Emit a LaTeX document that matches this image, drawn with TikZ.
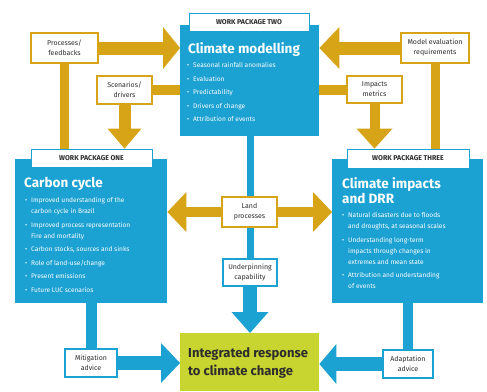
\documentclass[tikz,border=0pt]{standalone}
\usepackage{fontspec}
\setmainfont{Fira Sans}
\usetikzlibrary{arrows.meta}
\definecolor{wpblue}{RGB}{27,161,210}
\definecolor{wpgold}{RGB}{214,164,22}
\definecolor{wplime}{RGB}{200,212,48}
\definecolor{txt}{RGB}{45,45,45}
\newcommand\bl{\makebox[6pt][l]{\textbullet}}
\newcommand\cl{\hspace*{6pt}}
\pgfdeclarelayer{bgwhite}
\pgfdeclarelayer{bg}
\pgfsetlayers{bgwhite,bg,main}
\tikzset{
  wpbox/.style={fill=wpblue, draw=none, inner sep=0, anchor=north west},
  wplabel/.style={fill=white, draw=wpblue, line width=0.8pt, inner sep=0, text=txt,
    font=\fontsize{7}{8}\selectfont\bfseries},
  goldlab/.style={fill=white, draw=wpgold, line width=1.3pt, inner sep=0, align=center,
    text=txt, font=\fontsize{7}{10}\selectfont},
  bluelab/.style={fill=white, draw=wpblue, line width=1.3pt, inner sep=0, align=center,
    text=txt, font=\fontsize{7}{10}\selectfont},
  wptitle/.style={text=white, inner sep=0, anchor=base west, align=left,
    font=\fontsize{13.5}{15}\selectfont\bfseries},
  wplist/.style={text=white, inner sep=0, anchor=north west, align=left,
    font=\fontsize{6.6}{11}\selectfont},
  inttitle/.style={text=txt, inner sep=0, anchor=base west, align=left,
    font=\fontsize{13}{18}\selectfont\bfseries},
  goldbar/.style={draw=wpgold, line cap=butt},
  bluebar/.style={draw=wpblue, line cap=butt},
  tipto/.style 2 args={-{Triangle[length=#1, width=#2, line width=0pt]}},
  tipboth/.style 2 args={{Triangle[length=#1, width=#2, line width=0pt]}-{Triangle[length=#1, width=#2, line width=0pt]}},
}
\begin{document}
\begin{tikzpicture}[x=1pt,y=-1pt]
\useasboundingbox (0,0) rectangle (487,391);
\begin{pgfonlayer}{bgwhite}
\fill[white] (0,0) rectangle (487,391);
\end{pgfonlayer}

% main boxes
\node[wpbox, minimum width=139pt, minimum height=111pt] (wp2) at (180,25) {};
\node[wpbox, minimum width=152pt, minimum height=144pt] (wp1) at (15,159) {};
\node[wpbox, minimum width=151pt, minimum height=144pt] (wp3) at (332,159) {};
\node[fill=wplime, inner sep=0, anchor=north west, minimum width=139pt, minimum height=58pt] (int) at (180,333) {};

% connector label boxes
\node[goldlab, minimum width=67pt, minimum height=30pt] (pf) at (64.5,48) {Processes/\\feedbacks};
\node[goldlab, minimum width=55pt, minimum height=28pt] (sd) at (124.5,90) {Scenarios/\\drivers};
\node[goldlab, minimum width=68pt, minimum height=30pt] (mer) at (435,48) {Model evaluation\\requirements};
\node[goldlab, minimum width=55pt, minimum height=27pt] (im) at (374.5,89.5) {Impacts\\metrics};
\node[goldlab, minimum width=55pt, minimum height=30pt] (lp) at (249.5,212) {Land\\processes};
\node[bluelab, minimum width=54pt, minimum height=27pt] (uc) at (250,272.5) {Underpinning\\capability};
\node[bluelab, minimum width=52pt, minimum height=28pt] (ma) at (91,363) {Mitigation\\advice};
\node[bluelab, minimum width=50pt, minimum height=28pt] (aa) at (408,364) {Adaptation\\advice};

% work package labels
\node[wplabel, minimum width=120pt, minimum height=18pt] (lab2) at (249,22) {WORK PACKAGE TWO};
\node[wplabel, minimum width=121pt, minimum height=18pt] (lab1) at (91.5,158) {WORK PACKAGE ONE};
\node[wplabel, minimum width=122pt, minimum height=19pt] (lab3) at (408,158.5) {WORK PACKAGE THREE};

% titles (base = last line)
\node[wptitle] (t2) at (188,53) {Climate modelling};
\node[wptitle] (t1) at (24,187) {Carbon cycle};
\node[wptitle] (t3) at (342,203) {Climate impacts\\and DRR};
\node[inttitle] (ti) at (188,375) {Integrated response\\to climate change};

% lists
\node[wplist] (l2) at (187,62.5) {\bl Seasonal rainfall anomalies\\[2.5pt]
\bl Evaluation\\[2.5pt]
\bl Predictability\\[2.5pt]
\bl Drivers of change\\[2.5pt]
\bl Attribution of events};
\node[wplist] (l1) at (25,197.5) {\bl Improved understanding of the\\
\cl carbon cycle in Brazil\\[2.5pt]
\bl Improved process representation\\
\cl Fire and mortality\\[2.5pt]
\bl Carbon stocks, sources and sinks\\[2.5pt]
\bl Role of land-use/change\\[2.5pt]
\bl Present emissions\\[2.5pt]
\bl Future LUC scenarios};
\node[wplist] (l3) at (342,212.5) {\bl Natural disasters due to floods\\
\cl and droughts, at seasonal scales\\[2.5pt]
\bl Understanding long-term\\
\cl impacts through changes in\\
\cl extremes and mean state\\[2.5pt]
\bl Attribution and understanding\\
\cl of events};

% connectors
\begin{pgfonlayer}{bg}
% gold
\draw[goldbar, line width=13pt, tipto={17pt}{42pt}] (pf.east) -- (pf.east -| wp2.west);
\draw[goldbar, line width=9pt] (pf.south) -- (pf.south |- wp1.north);
\draw[goldbar, line width=10pt] (sd.east) -- (sd.east -| wp2.west);
\draw[goldbar, line width=12pt, tipto={20pt}{34pt}] (sd.south) -- (sd.south |- lab1.north);
\draw[goldbar, line width=13pt, tipto={20pt}{42pt}] (mer.west) -- (mer.west -| wp2.east);
\draw[goldbar, line width=9pt] (mer.south) -- (mer.south |- wp3.north);
\draw[goldbar, line width=10pt] (im.west) -- (im.west -| wp2.east);
\draw[goldbar, line width=10pt, tipto={20pt}{36pt}] (im.south) -- (im.south |- lab3.north);
\draw[goldbar, line width=10pt, tipboth={19pt}{40pt}] (lp -| wp1.east) -- (lp -| wp3.west);
% blue
\draw[bluebar, line width=7pt] (wp2.south -| uc) -- (uc.north);
\draw[bluebar, line width=14pt, tipto={21pt}{37pt}] (uc.south) -- (uc.south |- int.north);
\draw[bluebar, line width=11pt] (ma.north |- wp1.south) -- (ma.north);
\draw[bluebar, line width=14pt, tipto={19pt}{40pt}] (ma.east) -- (ma.east -| int.west);
\draw[bluebar, line width=10pt] (aa.north |- wp3.south) -- (aa.north);
\draw[bluebar, line width=14pt, tipto={17pt}{40pt}] (aa.west) -- (aa.west -| int.east);
\end{pgfonlayer}
\end{tikzpicture}
\end{document}
